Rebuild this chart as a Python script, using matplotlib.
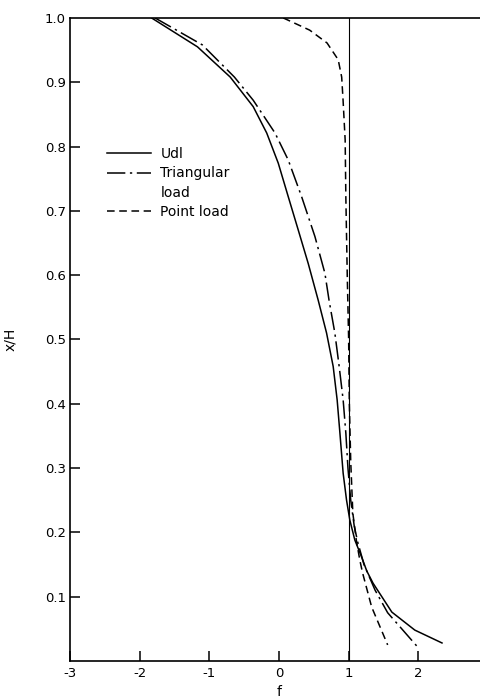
import matplotlib
matplotlib.use('Agg')
from matplotlib import pyplot as plt
from matplotlib.lines import Line2D

# f against x/H for the three load cases
udl_f = [-1.83, -1.17, -0.70, -0.37, -0.176, -0.01, 0.133, 0.277, 0.42, 0.563,
         0.683, 0.778, 0.835, 0.875, 0.921, 0.97, 1.017, 1.089, 1.185, 1.26, 1.35,
         1.62, 1.95, 2.34]
udl_x = [1.0, 0.955, 0.908, 0.862, 0.821, 0.774, 0.722, 0.670, 0.618, 0.561,
         0.510, 0.458, 0.406, 0.354, 0.292, 0.250, 0.219, 0.188, 0.162, 0.140, 0.121,
         0.076, 0.048, 0.028]

tri_f = [-1.78, -1.10, -0.64, -0.37, -0.057, 0.133, 0.325, 0.516, 0.659, 0.72,
         0.802, 0.864, 0.921, 0.96, 0.99, 1.03, 1.08, 1.13, 1.22, 1.38, 1.56, 1.98]
tri_x = [1.0, 0.958, 0.908, 0.872, 0.821, 0.779, 0.722, 0.660, 0.603, 0.56,
         0.51, 0.458, 0.406, 0.354, 0.30, 0.25, 0.21, 0.185, 0.150, 0.110, 0.075, 0.023]

pt_f = [0.06, 0.44, 0.69, 0.85, 0.90, 0.92, 0.95, 0.96, 0.98, 1.00, 1.01, 1.03,
        1.06, 1.11, 1.16, 1.20, 1.33, 1.56]
pt_x = [1.0, 0.981, 0.961, 0.935, 0.908, 0.872, 0.81, 0.72, 0.60, 0.50, 0.40, 0.31,
        0.23, 0.188, 0.157, 0.137, 0.084, 0.025]

x_ticks = [-3, -2, -1, 0, 1, 2]
y_ticks = [0.1, 0.2, 0.3, 0.4, 0.5, 0.6, 0.7, 0.8, 0.9]

plt.rcParams['font.family'] = ['DejaVu Sans']

fig = plt.figure(figsize=(4.81, 6.99), dpi=100)
ax = fig.add_axes([0.1455, 0.0544, 0.869, 0.92])

dashdot = (0, (12, 3, 1.5, 3))
dashed = (0, (5, 3))
ax.plot(udl_f, udl_x, color='black', lw=1.1, ls='-')
ax.plot(tri_f, tri_x, color='black', lw=1.1, ls=dashdot)
ax.plot(pt_f, pt_x, color='black', lw=1.1, ls=dashed)
ax.axvline(1, color='black', lw=0.8)

ax.set_xlim(-3, 3)
ax.set_ylim(0, 1.0)
ax.set_xticks(x_ticks)
ax.set_xticklabels([str(t) for t in x_ticks])
ax.set_yticks(y_ticks + [1.0])
ax.set_yticklabels([f'{t:.1f}' for t in y_ticks] + ['1.0'])
ax.tick_params(axis='both', direction='in', length=7, width=1.1, labelsize=9.5, pad=4)
ax.tick_params(axis='y', pad=3)
ax.yaxis.get_major_ticks()[-1].tick1line.set_visible(False)

ax.spines['right'].set_visible(False)
for side in ['left', 'bottom', 'top']:
    ax.spines[side].set_linewidth(1.2)

ax.set_xlabel('f', fontsize=10, labelpad=4)
ax.set_ylabel('x/H', fontsize=10, labelpad=20)

# legend rows: the second line of "Triangular load" gets an empty handle
handles = [Line2D([], [], color='black', lw=1.1, ls='-'),
           Line2D([], [], color='black', lw=1.1, ls=dashdot),
           Line2D([], [], color='none'),
           Line2D([], [], color='black', lw=1.1, ls=dashed)]
labels = ['Udl', 'Triangular', 'load', 'Point load']
ax.legend(handles, labels, loc='upper left', bbox_to_anchor=(0.0885, 0.799),
          frameon=False, fontsize=10, handlelength=3.2, handletextpad=0.65,
          labelspacing=0.38, borderpad=0, borderaxespad=0)

fig.savefig('out.png', dpi=100, facecolor='white')
plt.close(fig)
